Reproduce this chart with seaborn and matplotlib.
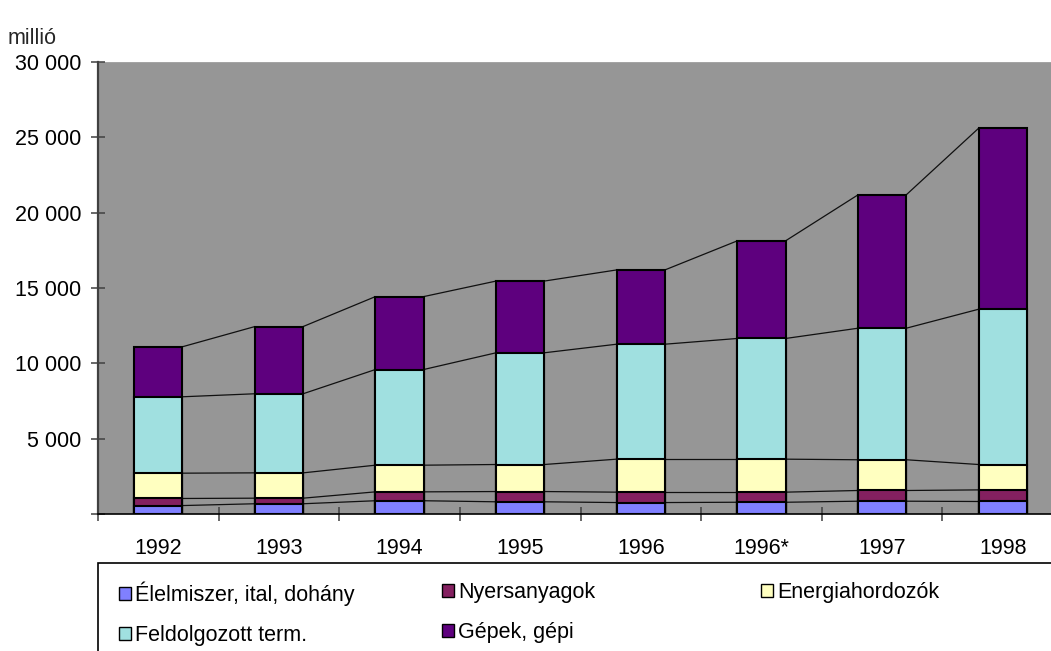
import numpy as np
import pandas as pd
import matplotlib
matplotlib.use("Agg")
import matplotlib.pyplot as plt
import seaborn as sns
from matplotlib.patches import Rectangle, Patch

# ---- data (millió) ----
years = ["1992", "1993", "1994", "1995", "1996", "1996*", "1997", "1998"]
elelmiszer = [560, 680, 880, 810, 760, 780, 850, 830]
nyersanyag = [470, 370, 590, 680, 690, 670, 710, 770]
energia = [1680, 1680, 1770, 1795, 2190, 2190, 2040, 1685]
feldolgozott = [5070, 5250, 6350, 7415, 7630, 8010, 8730, 10305]
gepek = [3320, 4460, 4840, 4760, 4930, 6480, 8850, 12010]

series_names = ["Élelmiszer, ital, dohány", "Nyersanyagok", "Energiahordozók",
                "Feldolgozott term.", "Gépek, gépi"]
series_vals = [elelmiszer, nyersanyag, energia, feldolgozott, gepek]
colors = ["#8080FF", "#842060", "#FFFFC0", "#A0E0E0", "#5E007E"]
ytick_vals = [0, 5000, 10000, 15000, 20000, 25000, 30000]
ytick_labels = ["", "5 000", "10 000", "15 000", "20 000", "25 000", "30 000"]

sns.set_theme(style="white")
plt.rcParams["font.family"] = ["Liberation Sans", "DejaVu Sans"]
FS = 15.5

W, H = 1051, 651
fig = plt.figure(figsize=(W / 100, H / 100), dpi=100)
ax = fig.add_axes([98 / W, 1 - 514 / H, 965 / W, 452 / H])
ax.set_facecolor("#969696")

cum = np.cumsum(np.array(series_vals, dtype=float), axis=0)
bar_w = 0.4

# series lines between bars
xs = np.arange(len(years))
for k in range(len(series_names)):
    for i in range(len(years) - 1):
        ax.plot([xs[i] + bar_w / 2, xs[i + 1] - bar_w / 2],
                [cum[k][i], cum[k][i + 1]], color="#101010", lw=0.9, zorder=1)

# stacked bars: draw cumulative totals from the top layer down
for k in reversed(range(len(series_names))):
    df = pd.DataFrame({"year": years, "value": cum[k]})
    sns.barplot(data=df, x="year", y="value", order=years, color=colors[k],
                width=bar_w, edgecolor="black", linewidth=1.5, ax=ax,
                saturation=1, zorder=2)

ax.set_xlim(-0.5, len(years) - 0.5)
ax.set_ylim(0, 30000)
ax.set_yticks(ytick_vals)
ax.set_yticklabels(ytick_labels, fontsize=FS, color="black")
ax.set_xticks(xs)
ax.set_xticklabels(years, fontsize=FS, color="black")
ax.set_xticks(np.arange(len(years)) - 0.5, minor=True)
ax.set_xlabel("")
ax.set_ylabel("")
ax.tick_params(axis="y", which="major", direction="inout", length=10, width=1.1,
               color="#404040", pad=7, left=True)
ax.tick_params(axis="x", which="major", length=0, pad=17, bottom=True)
ax.tick_params(axis="x", which="minor", direction="inout", length=10, width=1.1,
               color="#404040", bottom=True)
for s in ["top", "right"]:
    ax.spines[s].set_visible(False)
ax.spines["left"].set_color("#404040")
ax.spines["left"].set_linewidth(1.6)
ax.spines["bottom"].set_color("black")
ax.spines["bottom"].set_linewidth(1.2)
ax.axhline(30000, color="#A8A8A8", lw=1.2, zorder=0.5)
ax.grid(False)

fig.text(8 / W, 1 - 38 / H, "millió", fontsize=FS, va="center", ha="left")

# legend box
fig.patches.append(Rectangle((98 / W, -0.2), 2, (1 - 563 / H) + 0.2,
                             transform=fig.transFigure, fill=False,
                             edgecolor="black", lw=1.2))

handles = [Patch(facecolor=c, edgecolor="black", lw=1.0) for c in colors]
cols = [[0, 3], [1, 4], [2]]
col_x = [119, 442, 761]
for cx, idx in zip(col_x, cols):
    leg = fig.legend([handles[i] for i in idx], [series_names[i] for i in idx],
                     loc="upper left", bbox_to_anchor=(cx / W, 1 - 582 / H),
                     frameon=False, fontsize=FS, handlelength=0.55,
                     handleheight=0.55, handletextpad=0.2, labelspacing=0.88,
                     borderpad=0, borderaxespad=0)
    for t in leg.get_texts():
        t.set_color("black")

fig.savefig("out.png", dpi=100)
